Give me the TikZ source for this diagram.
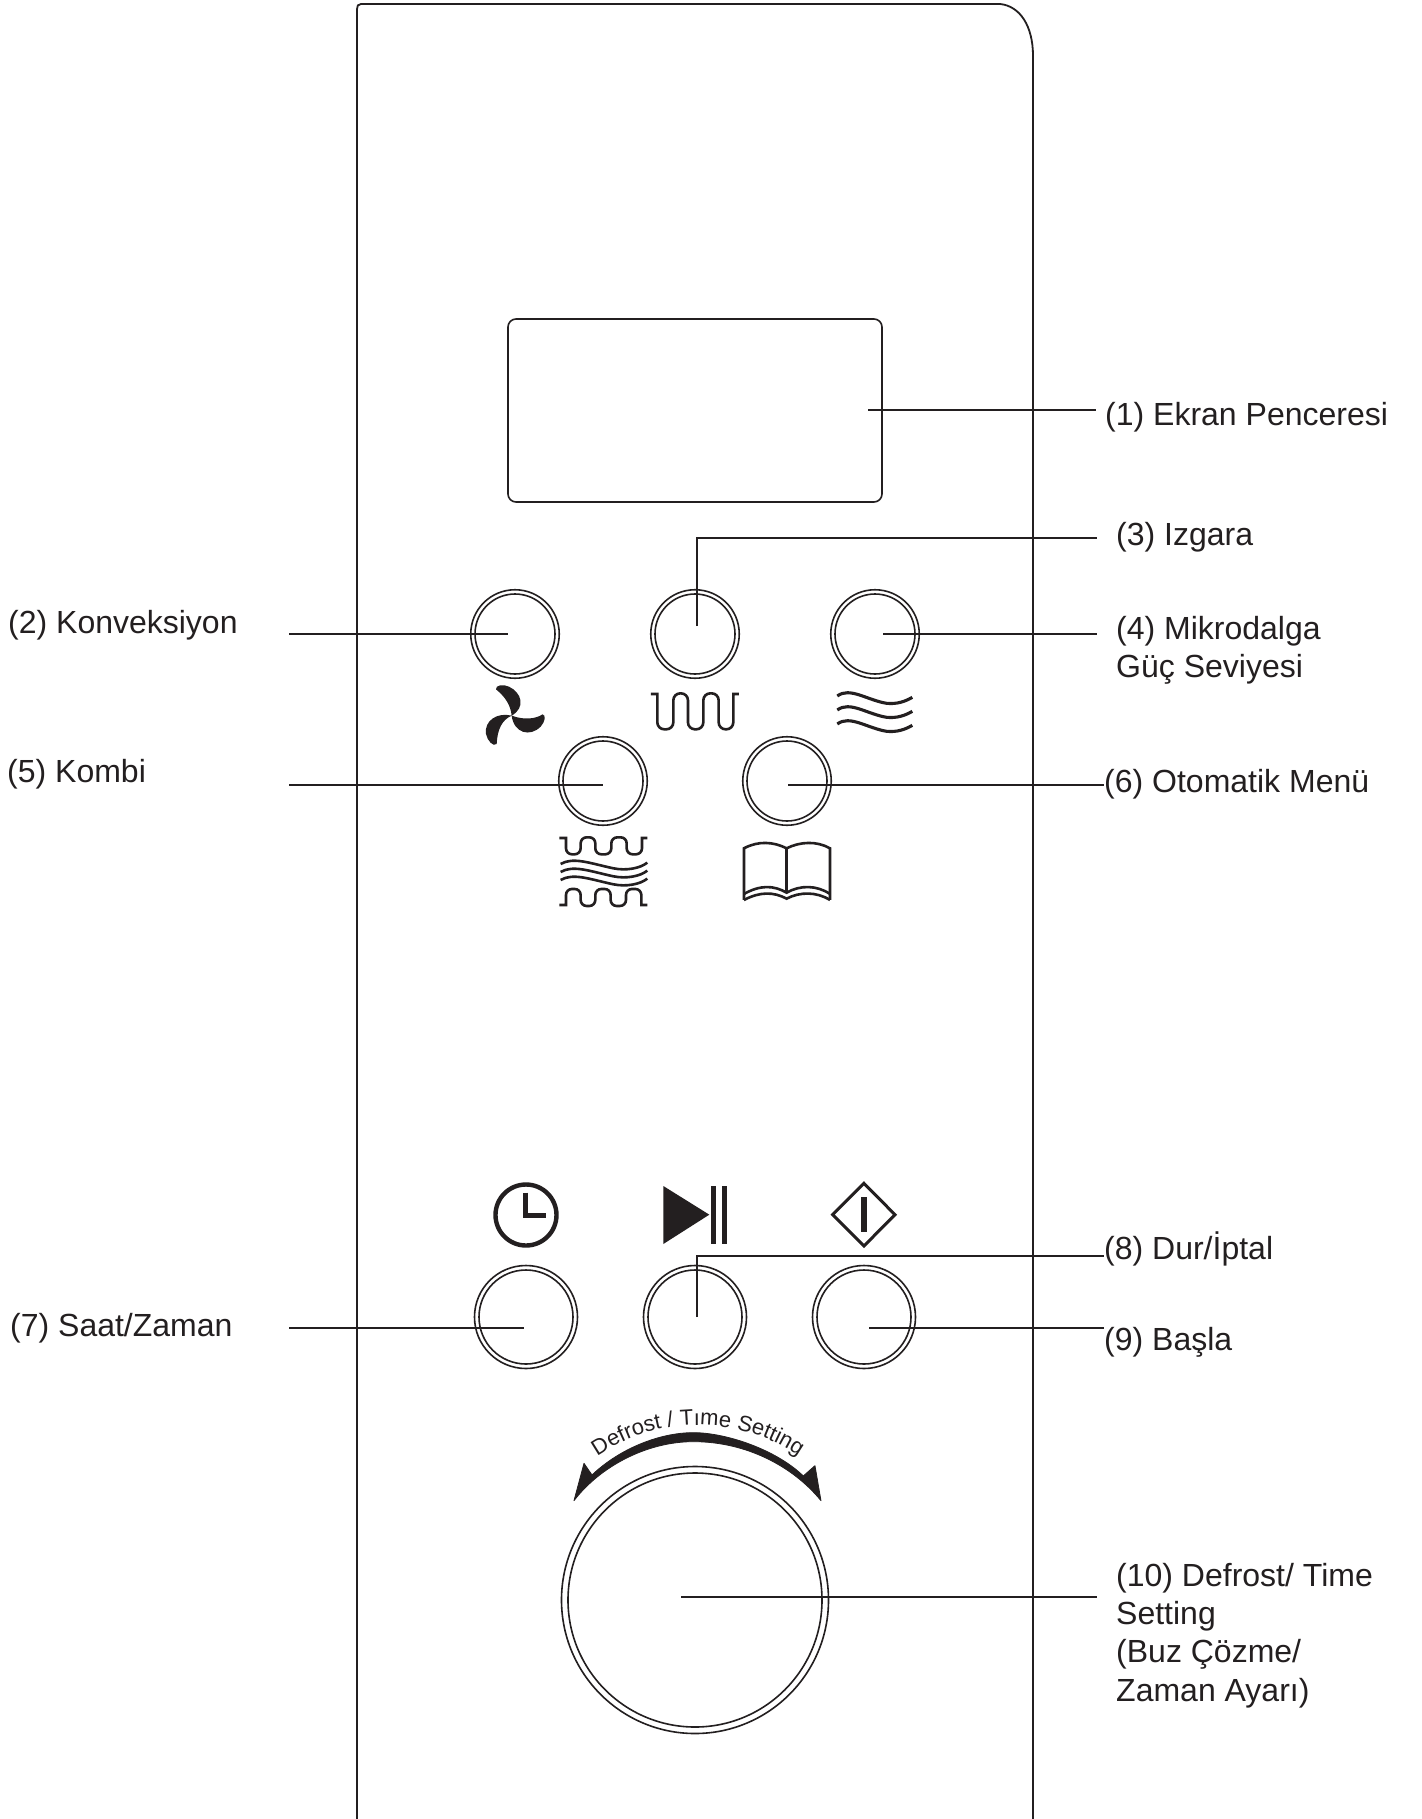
\documentclass[tikz,border=0pt]{standalone}
\usepackage{fontspec}
\setmainfont{Liberation Sans}
\usetikzlibrary{decorations.text}
\definecolor{ink}{HTML}{231F20}
\tikzset{
  panelline/.style={draw=ink,line width=1.8pt},
  btnouter/.style={circle,draw=ink,line width=1.6pt,inner sep=0pt,minimum size=#1},
  btninner/.style={circle,draw=ink,line width=1.6pt,inner sep=0pt,minimum size=#1},
  leader/.style={draw=ink,line width=1.4pt},
  lbl/.style={text=ink,inner sep=0pt,anchor=base west,align=left,font=\fontsize{32}{38.2}\selectfont},
  iconline/.style={draw=ink,line width=2.6pt},
  iconfill/.style={fill=ink,draw=none},
}
\begin{document}
\begin{tikzpicture}[x=1pt,y=-1pt]
\useasboundingbox (0,0) rectangle (1421,1819);
\fill[white] (0,0) rectangle (1421,1819);
% panel and display
\draw[panelline] (357,1819) -- (357,9) .. controls (357,6) and (358,4) .. (361,4) -- (1000,4) .. controls (1020,6) and (1033,26) .. (1033,56) -- (1033,1819);
\node[draw=ink,line width=1.6pt,rounded corners=8pt,minimum width=374pt,minimum height=183pt,inner sep=0pt] (display) at (695,410.5) {};
% buttons
\foreach \n/\x/\y in {b2/515/634,b3/695/634,b4/875/634,b5/603/781,b6/787/781}{
  \node[btnouter=88.5pt] (\n) at (\x,\y) {};
  \node[btninner=80pt] (\n i) at (\x,\y) {};
}
\foreach \n/\x/\y in {b7/526/1317,b8/695/1317,b9/864/1317}{
  \node[btnouter=103pt] (\n) at (\x,\y) {};
  \node[btninner=94pt] (\n i) at (\x,\y) {};
}
\node[btnouter=267pt] (knob) at (695,1600) {};
\node[btninner=254pt] (knobi) at (695,1600) {};
% labels
\node[lbl] (l1) at (1105,425) {(1) Ekran Penceresi};
\node[lbl] (l2) at (8,633) {(2) Konveksiyon};
\node[lbl] (l3) at (1116,545) {(3) Izgara};
\node[lbl,anchor=north west] (l4) at (1116,616) {(4) Mikrodalga\\Güç Seviyesi};
\node[lbl] (l5) at (7,782) {(5) Kombi};
\node[lbl] (l6) at (1104,792) {(6) Otomatik Menü};
\node[lbl] (l7) at (10,1336) {(7) Saat/Zaman};
\node[lbl] (l8) at (1104,1259) {(8) Dur/İptal};
\node[lbl] (l9) at (1104,1350) {(9) Başla};
\node[lbl,anchor=north west] (l10) at (1116,1563) {(10) Defrost/ Time\\Setting\\(Buz Çözme/\\Zaman Ayarı)};
% connector ends
\coordinate (e1a) at (868,410); \coordinate (e1b) at (1096,410);
\coordinate (e2a) at (289,634); \coordinate (e2b) at (508,634);
\coordinate (e3a) at (697,626); \coordinate (e3b) at (1097,538);
\coordinate (e4a) at (883,634); \coordinate (e4b) at (1097,634);
\coordinate (e5a) at (289,785); \coordinate (e5b) at (603,785);
\coordinate (e6a) at (788,785); \coordinate (e6b) at (1104,785);
\coordinate (e7a) at (289,1328); \coordinate (e7b) at (524,1328);
\coordinate (e8a) at (697,1317); \coordinate (e8b) at (1104,1256);
\coordinate (e9a) at (869,1328); \coordinate (e9b) at (1104,1328);
\coordinate (e10a) at (681,1597); \coordinate (e10b) at (1097,1597);
\draw[leader] (e1a) -- (e1b);
\draw[leader] (e2a) -- (e2b);
\draw[leader] (e3a) |- (e3b);
\draw[leader] (e4a) -- (e4b);
\draw[leader] (e5a) -- (e5b);
\draw[leader] (e6a) -- (e6b);
\draw[leader] (e7a) -- (e7b);
\draw[leader] (e8a) |- (e8b);
\draw[leader] (e9a) -- (e9b);
\draw[leader] (e10a) -- (e10b);
% upper icons (coordinates in zoom units)
\begin{scope}[shift={(440,570)},x=0.3333pt,y=-0.3333pt]
  % fan
  \fill[ink] (215,437) .. controls (212,405) and (195,380) .. (168,358) .. controls (166,345) and (190,342) .. (207,350) .. controls (245,368) and (258,412) .. (215,437)
    .. controls (250,450) and (285,448) .. (308,433) .. controls (318,435) and (316,455) .. (302,470) .. controls (270,502) and (222,490) .. (215,437)
    .. controls (172,426) and (132,452) .. (138,492) .. controls (142,512) and (160,532) .. (170,522) .. controls (172,480) and (185,450) .. (215,437) -- cycle;
  % heater
  \draw[iconline] (633,372) -- (652,372) [rounded corners=7pt] -- (652,478) -- (700,478) -- (700,370) -- (744,370) -- (744,478) -- (790,478) -- (790,370) -- (836,370) -- (836,478) -- (880,478) [sharp corners] -- (880,372) -- (897,372);
  % microwave waves
  \foreach \d in {0,42,84}{
    \draw[draw=ink,line width=3.1pt] (1192,{378+\d}) .. controls (1230,{350+\d}) and (1280,{390+\d}) .. (1340,{400+\d}) .. controls (1370,{403+\d}) and (1395,{395+\d}) .. (1417,{382+\d});
  }
  % combi
  \draw[iconline] (358,804) -- (378,804) [rounded corners=6pt] -- (378,853) -- (422,853) -- (422,802) -- (466,802) -- (466,853) -- (514,853) -- (514,802) -- (560,802) -- (560,853) -- (606,853) [sharp corners] -- (606,804) -- (622,804);
  \draw[iconline] (358,1005) -- (378,1005) [rounded corners=6pt] -- (378,957) -- (422,957) -- (422,1008) -- (466,1008) -- (466,957) -- (512,957) -- (512,1008) -- (558,1008) -- (558,957) -- (604,957) [sharp corners] -- (604,1005) -- (622,1005);
  \foreach \d in {0,24,48}{
    \draw[iconline] (362,{882+\d}) .. controls (400,{860+\d}) and (450,{880+\d}) .. (520,{895+\d}) .. controls (560,{903+\d}) and (600,{895+\d}) .. (622,{878+\d});
  }
  % book
  \draw[iconline] (912,990) -- (912,835) .. controls (955,812) and (1000,815) .. (1040,835) .. controls (1080,815) and (1130,812) .. (1170,835) -- (1170,990);
  \draw[iconline] (1040,835) -- (1040,968);
  \draw[iconline] (912,972) .. controls (960,945) and (1000,945) .. (1040,968) .. controls (1080,945) and (1130,945) .. (1170,972);
  \draw[iconline] (912,990) .. controls (960,965) and (1000,965) .. (1040,986) .. controls (1080,965) and (1130,965) .. (1170,990);
\end{scope}
% lower icons
\begin{scope}[shift={(460,1180)},x=0.3333pt,y=-0.3333pt]
  \node[circle,draw=ink,line width=4.4pt,minimum size=61pt,inner sep=0pt] (clock) at (198,105) {};
  \draw[draw=ink,line width=4.4pt] (197,38) -- (197,106) -- (257,106);
  \fill[ink] (610,18) -- (748,104) -- (610,192) -- cycle;
  \fill[ink] (752,18) rectangle (767,192);
  \fill[ink] (785,18) rectangle (800,192);
  \draw[draw=ink,line width=3pt] (1212,10) -- (1305,104) -- (1212,198) -- (1118,104) -- cycle;
  \fill[ink] (1202,50) rectangle (1220,155);
  % arc arrow
  \fill[ink,line join=round,draw=ink,line width=0.8pt] (342,962) -- (372,850) -- (396,885) .. controls (480,805) and (600,758) .. (700,758) .. controls (800,758) and (950,810) .. (1030,888) -- (1065,857) -- (1083,962) .. controls (1000,860) and (860,785) .. (700,785) .. controls (560,785) and (420,860) .. (342,962) -- cycle;
\end{scope}
% curved text
\coordinate (ta) at (583.3,1466.8);
\coordinate (tb) at (812.7,1466.8);
\path[decorate,decoration={text along path,text align=center,text={|\fontsize{22}{22}\selectfont\color{ink}|Defrost / Tıme Setting}}] (ta) .. controls (649.7,1411.1) and (746.3,1411.1) .. (tb);
\end{tikzpicture}
\end{document}
